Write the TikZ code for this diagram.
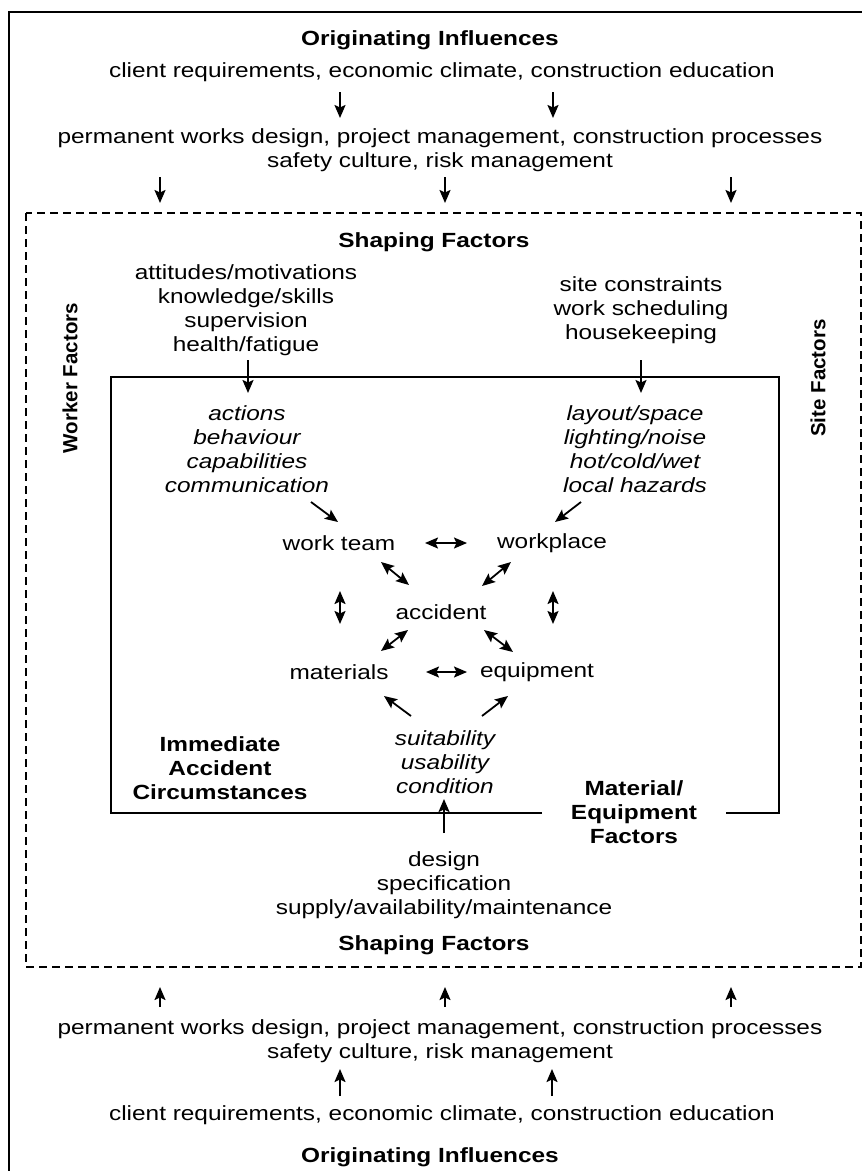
\documentclass[tikz,border=0pt]{standalone}
\usepackage{fontspec}
\setmainfont{Liberation Sans}[FakeStretch=1.19]
\newfontfamily\rotfont{Liberation Sans}
\usetikzlibrary{arrows.meta}
\tikzset{
  txt/.style={inner sep=0pt, align=center, font=\fontsize{20.5bp}{24bp}\selectfont},
  btxt/.style={txt, font=\fontsize{20.5bp}{24bp}\selectfont\bfseries},
  itxt/.style={txt, font=\fontsize{20.5bp}{24bp}\selectfont\itshape},
  rtxt/.style={inner sep=0pt, rotate=90, font=\rotfont\fontsize{20.5bp}{24bp}\selectfont\bfseries},
  arr/.style={line width=1.8bp, -{Stealth[length=13bp,width=11bp,inset=2.5bp]}},
  darr/.style={line width=1.8bp, {Stealth[length=13bp,width=11bp,inset=2.5bp]}-{Stealth[length=13bp,width=11bp,inset=2.5bp]}},
  frame/.style={line width=2.6bp},
  dbox/.style={line width=1.5bp, dash pattern=on 8bp off 5bp},
  ibox/.style={line width=1.6bp}
}
\begin{document}
\begin{tikzpicture}[x=1bp,y=-1bp]
\useasboundingbox (0,0) rectangle (862,1171);
\clip (0,0) rectangle (862,1171);
\fill[white] (0,0) rectangle (862,1171);
% frames
\draw[frame] (9,1200) -- (9,12) -- (900,12);
\draw[dbox] (26,213) rectangle (861,967);
\draw[ibox] (542,813) -- (111,813) -- (111,377) -- (779,377) -- (779,813) -- (726,813);
% texts
\node[btxt] (oi1) at (430,40) {Originating Influences};
\node[txt] (cr1) at (442,72) {client requirements, economic climate, construction education};
\node[txt] (pw1) at (440,150) {permanent works design, project management, construction processes\\safety culture, risk management};
\node[btxt] (sf1) at (434,242) {Shaping Factors};
\node[txt] (wf) at (246,310) {attitudes/motivations\\knowledge/skills\\supervision\\health/fatigue};
\node[txt] (sc) at (641,310) {site constraints\\work scheduling\\housekeeping};
\node[rtxt] (wfl) at (70,378) {Worker Factors};
\node[rtxt] (sfl) at (818,378) {Site Factors};
\node[itxt] (act) at (247,449) {actions\\behaviour\\capabilities\\communication};
\node[itxt] (lay) at (635,449) {layout/space\\lighting/noise\\hot/cold/wet\\local hazards};
\node[txt] (wt) at (339,543) {work team};
\node[txt] (wp) at (552,543) {workplace};
\node[txt] (acc) at (441,612) {accident};
\node[txt] (mat) at (339,672) {materials};
\node[txt] (eq) at (537,672) {equipment};
\node[itxt] (suit) at (445,762) {suitability\\usability\\condition};
\node[btxt] (iac) at (220,768) {Immediate\\Accident\\Circumstances};
\node[btxt] (mef) at (634,812) {Material/\\Equipment\\Factors};
\node[txt] (des) at (444,885) {design\\specification\\supply/availability/maintenance};
\node[btxt] (sf2) at (434,945) {Shaping Factors};
\node[txt] (pw2) at (440,1041) {permanent works design, project management, construction processes\\safety culture, risk management};
\node[txt] (cr2) at (442,1115) {client requirements, economic climate, construction education};
\node[btxt] (oi2) at (430,1157) {Originating Influences};
% arrow end points
\coordinate (t1a) at (340,92);  \coordinate (t1b) at (340,118);
\coordinate (t2a) at (553,92);  \coordinate (t2b) at (553,118);
\coordinate (t3a) at (160,177); \coordinate (t3b) at (160,203);
\coordinate (t4a) at (445,177); \coordinate (t4b) at (445,203);
\coordinate (t5a) at (731,177); \coordinate (t5b) at (731,203);
\coordinate (w1a) at (248,360); \coordinate (w1b) at (248,393);
\coordinate (s1a) at (641,360); \coordinate (s1b) at (641,393);
\coordinate (c1a) at (311,502); \coordinate (c1b) at (338,522);
\coordinate (l1a) at (581,502); \coordinate (l1b) at (555,522);
\coordinate (h1a) at (425,543); \coordinate (h1b) at (467,543);
\coordinate (d1a) at (381,562); \coordinate (d1b) at (409,585);
\coordinate (d2a) at (511,562); \coordinate (d2b) at (482,586);
\coordinate (v1a) at (340,591); \coordinate (v1b) at (340,624);
\coordinate (v2a) at (553,591); \coordinate (v2b) at (553,624);
\coordinate (d3a) at (408,630); \coordinate (d3b) at (381,651);
\coordinate (d4a) at (484,630); \coordinate (d4b) at (513,652);
\coordinate (h2a) at (426,672); \coordinate (h2b) at (467,672);
\coordinate (u1a) at (411,716); \coordinate (u1b) at (384,696);
\coordinate (u2a) at (482,716); \coordinate (u2b) at (508,696);
\coordinate (u3a) at (444,833); \coordinate (u3b) at (444,799);
\coordinate (b1a) at (160,1007); \coordinate (b1b) at (160,987);
\coordinate (b2a) at (445,1007); \coordinate (b2b) at (445,987);
\coordinate (b3a) at (731,1007); \coordinate (b3b) at (731,987);
\coordinate (b4a) at (340,1096); \coordinate (b4b) at (340,1069);
\coordinate (b5a) at (552,1096); \coordinate (b5b) at (552,1069);
% arrows
\foreach \p in {t1,t2,t3,t4,t5,w1,s1,c1,l1,u1,u2,u3,b1,b2,b3,b4,b5}
  \draw[arr] (\p a) -- (\p b);
\foreach \p in {h1,h2,d1,d2,d3,d4,v1,v2}
  \draw[darr] (\p a) -- (\p b);
\end{tikzpicture}
\end{document}
